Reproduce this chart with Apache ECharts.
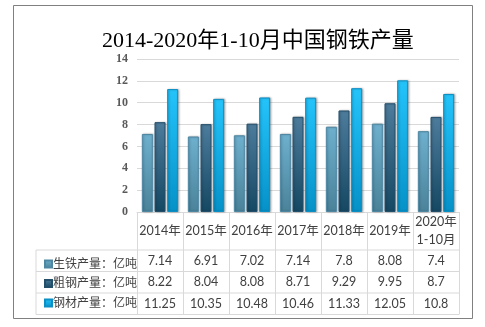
<!DOCTYPE html>
<html>
<head>
<meta charset="utf-8">
<script src="https://cdn.jsdelivr.net/npm/echarts@6/dist/echarts.min.js"></script>
<style>
  html, body { margin: 0; padding: 0; background: #fff; }
  #chart { width: 485px; height: 327px; }
</style>
</head>
<body>
<div id="chart"></div>
<script>
// Annual output, 100 million tonnes
var years = ['2014年', '2015年', '2016年', '2017年', '2018年', '2019年', '2020年\n1-10月'];
var pigIron = [7.14, 6.91, 7.02, 7.14, 7.8, 8.08, 7.4];
var crudeSteel = [8.22, 8.04, 8.08, 8.71, 9.29, 9.95, 8.7];
var steelProducts = [11.25, 10.35, 10.48, 10.46, 11.33, 12.05, 10.8];
var seriesNames = ['生铁产量：亿吨', '粗钢产量：亿吨', '钢材产量：亿吨'];
var yTicks = { min: 0, max: 14, interval: 2 };

var chart = echarts.init(document.getElementById('chart'));

var G = { left: 137, right: 459, top: 59, bottom: 212 };
var tableRows = [250, 271.5, 293, 314.5];
var tableLeft = 36;
var lineCol = '#d9d9d9';
var sansFont = 'Lato, "Noto Sans CJK SC", sans-serif';
var serifFont = '"Liberation Serif", "Noto Sans CJK SC", serif';

function grad(top, bottom) {
  return new echarts.graphic.LinearGradient(0, 0, 0, 1, [
    { offset: 0, color: top },
    { offset: 1, color: bottom }
  ]);
}
var fills = [
  grad('#6eb0ce', '#4a8299'),
  grad('#4d7c9c', '#154863'),
  grad('#24c4fb', '#0591c8')
];
var edges = ['#4f87a3', '#244f6b', '#0c8fc4'];

function rowAxis(values, margin) {
  return {
    type: 'category', data: years, gridIndex: 0, position: 'bottom',
    axisLine: { show: false }, axisTick: { show: false },
    axisLabel: {
      margin: margin, verticalAlign: 'middle', fontSize: 12.5,
      fontFamily: sansFont, color: '#404040', interval: 0,
      formatter: function (v, i) { return String(values[i]); }
    }
  };
}

var hLines = tableRows.map(function (y) {
  return { type: 'line', shape: { x1: tableLeft, y1: y, x2: G.right, y2: y },
           style: { stroke: lineCol, lineWidth: 1 }, silent: true };
});
hLines.push({ type: 'line', shape: { x1: tableLeft, y1: tableRows[0], x2: tableLeft, y2: tableRows[3] },
              style: { stroke: lineCol, lineWidth: 1 }, silent: true });

var option = {
  animation: false,
  backgroundColor: '#fff',
  title: {
    text: '2014-2020年1-10月中国钢铁产量',
    left: 97, top: 25,
    textStyle: { fontFamily: serifFont, fontSize: 22, fontWeight: 'normal', color: '#000' }
  },
  legend: {
    orient: 'vertical', left: 39, top: 253,
    itemWidth: 7, itemHeight: 7, itemGap: 7.5, icon: 'rect',
    selectedMode: false,
    textStyle: { fontFamily: sansFont, fontSize: 12, color: '#404040', padding: [0, 0, 0, -4] },
    data: seriesNames
  },
  grid: { left: G.left, right: 485 - G.right, top: G.top, bottom: 327 - G.bottom },
  xAxis: [
    {
      type: 'category', data: years,
      axisLine: { lineStyle: { color: lineCol } },
      axisTick: { show: true, length: tableRows[3] - G.bottom, lineStyle: { color: lineCol } },
      axisLabel: {
        margin: 19, verticalAlign: 'middle', fontSize: 12.5, lineHeight: 18,
        fontFamily: sansFont, color: '#404040', interval: 0
      }
    },
    rowAxis(pigIron, 48.5),
    rowAxis(crudeSteel, 70),
    rowAxis(steelProducts, 91.5)
  ],
  yAxis: {
    type: 'value', min: yTicks.min, max: yTicks.max, interval: yTicks.interval,
    axisLine: { show: false }, axisTick: { show: false },
    axisLabel: { margin: 9, fontFamily: serifFont, fontWeight: 'bold', fontSize: 12, color: '#595959' },
    splitLine: { lineStyle: { color: lineCol } }
  },
  series: [pigIron, crudeSteel, steelProducts].map(function (d, i) {
    return {
      name: seriesNames[i], type: 'bar', data: d, xAxisIndex: 0,
      barWidth: 11, barGap: '15%',
      itemStyle: { color: fills[i], borderColor: edges[i], borderWidth: 1,
                   shadowColor: 'rgba(0,0,0,0.25)', shadowBlur: 2, shadowOffsetX: 1, shadowOffsetY: 0 }
    };
  }),
  graphic: hLines.concat([{
    type: 'rect', shape: { x: 13.5, y: 5.5, width: 459, height: 313 },
    style: { fill: null, stroke: '#808080', lineWidth: 1 }, silent: true, z: 100
  }])
};
chart.setOption(option);
</script>
</body>
</html>
